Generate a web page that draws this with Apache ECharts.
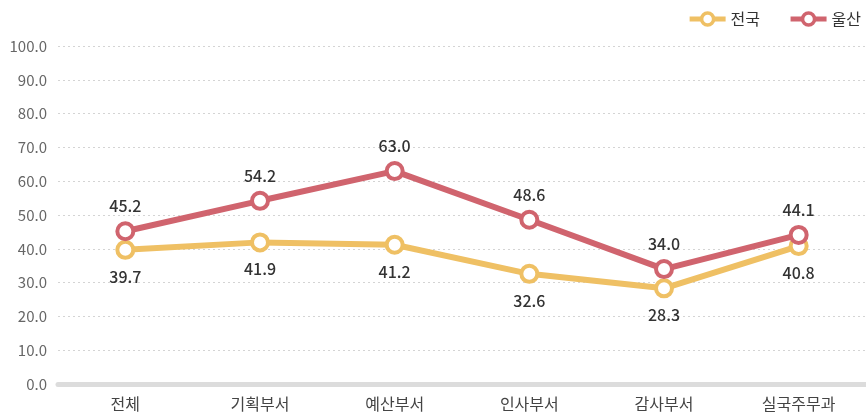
<!DOCTYPE html>
<html><head><meta charset="utf-8">
<script src="https://cdn.jsdelivr.net/npm/echarts@6/dist/echarts.min.js"></script>
<style>html,body{margin:0;padding:0;background:#fff}#c{width:866px;height:417px}</style>
</head><body><div id="c"></div>
<script>
var categories = ['전체','기획부서','예산부서','인사부서','감사부서','실국주무과'];
var national = [39.7, 41.9, 41.2, 32.6, 28.3, 40.8];
var ulsan = [45.2, 54.2, 63.0, 48.6, 34.0, 44.1];
var yTicks = {min: 0, max: 100, interval: 10};
var font = '"Noto Sans CJK KR", "Noto Sans", sans-serif';
var chart = echarts.init(document.getElementById('c'));
chart.setOption({
  animation: false,
  textStyle: {fontFamily: font},
  legend: {
    right: 0, top: 6, itemWidth: 36, itemHeight: 15, itemGap: 28,
    lineStyle: {width: 5},
    itemStyle: {borderWidth: 3.5},
    textStyle: {fontSize: 16, color: '#333', fontFamily: font},
    data: ['전국','울산']
  },
  grid: {left: 58, right: 0, top: 46, bottom: 33},
  xAxis: {
    type: 'category', data: categories, boundaryGap: true,
    axisLine: {show: true, lineStyle: {color: '#dcdcdc', width: 5}},
    axisTick: {show: false},
    axisLabel: {fontSize: 16, color: '#444', margin: 12, fontFamily: font}
  },
  yAxis: {
    type: 'value', min: yTicks.min, max: yTicks.max, interval: yTicks.interval,
    axisLine: {show: false}, axisTick: {show: false},
    axisLabel: {fontSize: 15, color: '#666', margin: 11, formatter: function(v){return v.toFixed(1);}, fontFamily: font},
    splitLine: {lineStyle: {color: '#d4d4d4', type: [2, 3], width: 1}}
  },
  series: [
    {
      name: '전국', type: 'line', data: national,
      symbol: 'circle', symbolSize: 16,
      lineStyle: {color: '#EFC064', width: 6},
      itemStyle: {color: '#ffffff', borderWidth: 4, borderColor: '#EFC064'},
      label: {show: true, position: 'bottom', distance: 9, fontSize: 16, fontWeight: 500, color: '#333', formatter: function(p){return p.value.toFixed(1);}, fontFamily: font},
      z: 2
    },
    {
      name: '울산', type: 'line', data: ulsan,
      symbol: 'circle', symbolSize: 16,
      lineStyle: {color: '#D0646E', width: 6},
      itemStyle: {color: '#ffffff', borderWidth: 4, borderColor: '#D0646E'},
      label: {show: true, position: 'top', distance: 7, fontSize: 16, fontWeight: 500, color: '#333', formatter: function(p){return p.value.toFixed(1);}, fontFamily: font},
      z: 3
    }
  ]
});
</script></body></html>
